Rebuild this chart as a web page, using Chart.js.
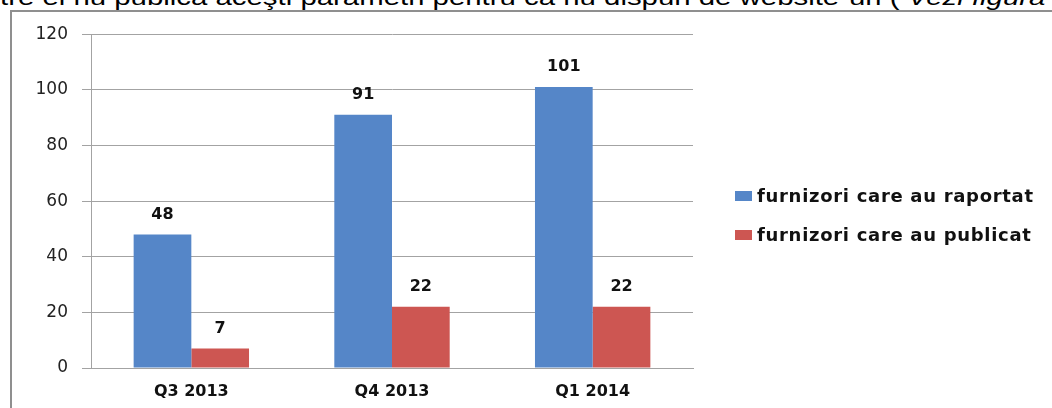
<!DOCTYPE html>
<html>
<head>
<meta charset="utf-8">
<script src="https://cdn.jsdelivr.net/npm/chart.js@4"></script>
<style>
	html, body { margin: 0; padding: 0; background: #fff; }
	body { width: 1052px; height: 408px; position: relative; overflow: hidden; }
	#top-text {
		position: absolute; left: 0; top: -13px; white-space: nowrap;
		font: 22px 'Liberation Sans', Arial, sans-serif; line-height: 22px; color: #000;
		transform: scaleX(1.335); transform-origin: 0 0;
	}
	#frame-top { position: absolute; left: 10px; top: 10px; width: 1042px; height: 2px; background: #8f8f8f; }
	#frame-left { position: absolute; left: 10px; top: 10px; width: 2px; height: 398px; background: #8f8f8f; }
	#chart-box { position: absolute; left: 10px; top: 10px; }
	#legend { position: absolute; left: 735px; top: 184px; font: bold 18px 'DejaVu Sans', sans-serif; letter-spacing: 0.7px; color: #111; }
	#legend div { height: 39px; line-height: 24px; white-space: nowrap; }
	#legend span { display: inline-block; width: 17px; height: 10px; margin-right: 5px; vertical-align: 1px; }
</style>
</head>
<body>
<div id="top-text">tre ei nu publică aceşti parametri pentru că nu dispun de website-uri ( <i>Vezi figura</i></div>
<div id="frame-top"></div>
<div id="frame-left"></div>
<div id="chart-box"><canvas id="furnizori-chart" width="1042" height="398"></canvas></div>
<div id="legend"></div>
<script>
Chart.defaults.font.family = 'DejaVu Sans';
Chart.defaults.font.size = 16;

var quarterList = ['Q3 2013', 'Q4 2013', 'Q1 2014'];
var raportatCnt = [48, 91, 101];
var publicatCnt = [7, 22, 22];
var yTicks = [0, 20, 40, 60, 80, 100, 120];

var gridColor = '#a3a3a3';

// numbers over the bars
var barValues = {
	id: 'barValues',
	afterDatasetsDraw: function(chart) {
		var ctx = chart.ctx;
		ctx.save();
		ctx.font = 'bold 16px DejaVu Sans';
		ctx.fillStyle = '#111';
		ctx.textAlign = 'center';
		ctx.textBaseline = 'middle';
		chart.data.datasets.forEach(function(ds, i) {
			chart.getDatasetMeta(i).data.forEach(function(bar, j) {
				ctx.fillText(ds.data[j], bar.x, bar.y - 20);
			});
		});
		ctx.restore();
	}
};

const ctx = document.getElementById('furnizori-chart').getContext('2d');
const myChart = new Chart(ctx, {
	type: 'bar',
	data: {
		labels: quarterList,
		datasets: [
			{
				label: 'furnizori care au raportat',
				data: raportatCnt,
				backgroundColor: '#5586c8'
			},
			{
				label: 'furnizori care au publicat',
				data: publicatCnt,
				backgroundColor: '#cd5652'
			}
		]
	},
	options: {
		responsive: false,
		animation: false,
		categoryPercentage: 0.575,
		barPercentage: 1.0,
		layout: { padding: { top: 21, right: 359, left: 0, bottom: 0 } },
		plugins: {
			legend: { display: false },
			tooltip: { enabled: false }
		},
		scales: {
			x: {
				grid: { display: false, drawTicks: false },
				border: { display: true, color: gridColor, width: 1 },
				ticks: { padding: 14, color: '#111', font: { weight: 'bold', size: 16 } },
				afterFit: function(scale) { scale.height = 40; }
			},
			y: {
				min: 0,
				max: 120,
				afterBuildTicks: function(scale) {
					scale.ticks = yTicks.map(function(v) { return { value: v }; });
				},
				grid: { color: gridColor, tickLength: 9 },
				border: { display: true, color: gridColor, width: 1 },
				ticks: { padding: 14, color: '#222', font: { size: 17 } },
				afterFit: function(scale) { scale.width = 81; }
			}
		}
	},
	plugins: [barValues]
});

// legend in html
var legendBox = document.getElementById('legend');
myChart.data.datasets.forEach(function(ds) {
	var row = document.createElement('div');
	var sw = document.createElement('span');
	sw.style.background = ds.backgroundColor;
	row.appendChild(sw);
	row.appendChild(document.createTextNode(ds.label));
	legendBox.appendChild(row);
});
</script>
</body>
</html>
